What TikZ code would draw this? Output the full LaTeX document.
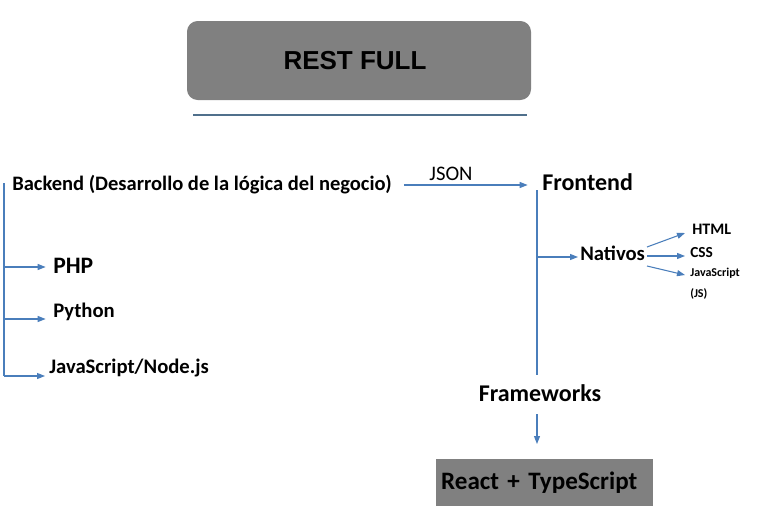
\documentclass[tikz,border=0pt]{standalone}
\usepackage{fontspec}
\setmainfont{Carlito}
\newfontfamily\ari{Liberation Sans}
\usetikzlibrary{arrows.meta}
\definecolor{boxgray}{RGB}{128,128,128}
\definecolor{arrblue}{RGB}{74,126,187}
\definecolor{slate}{RGB}{80,112,140}
\tikzset{
  arr/.style={draw=arrblue, line width=0.8pt, -{Triangle[length=6pt,width=4.5pt]}},
  plain/.style={draw=arrblue, line width=0.8pt},
  lbl/.style={anchor=west, inner sep=0pt, font=\bfseries},
}
\begin{document}
\begin{tikzpicture}[x=0.75pt,y=-0.75pt]
\useasboundingbox (0,0) rectangle (759,525);
% title
\node[fill=boxgray, rounded corners=8pt, minimum width=258pt, minimum height=59.25pt, inner sep=0pt] (rest) at (359,60.5) {};
\node[inner sep=0pt, font=\ari\bfseries\fontsize{19.5}{22}\selectfont] (restlbl) at (355,61) {REST FULL};
\coordinate (tl) at (193,115);
\coordinate (tr) at (527,115);
\draw[slate, line width=0.8pt] (tl) -- (tr);
% backend
\node[lbl, font=\bfseries\fontsize{15.4}{18}\selectfont] (backend) at (12,185) {Backend (Desarrollo de la lógica del negocio)};
\coordinate (btop) at (4,183);
\coordinate (b1) at (4,267);
\coordinate (b2) at (4,319);
\coordinate (b3) at (4,376);
\draw[plain] (btop) -- (b3);
\node[lbl, font=\bfseries\fontsize{17.7}{20}\selectfont] (php) at (53,266) {PHP};
\node[lbl, font=\bfseries\fontsize{15.5}{18}\selectfont] (python) at (53,312) {Python};
\node[lbl, font=\bfseries\fontsize{15.5}{18}\selectfont] (nodejs) at (49,368) {JavaScript/Node.js};
\draw[arr, shorten >=5.5pt] (b1) -- (b1 -| php.west);
\draw[arr, shorten >=5.5pt] (b2) -- (b2 -| python.west);
\draw[arr, shorten >=3pt] (b3) -- (b3 -| nodejs.west);
% json
\coordinate (ftop) at (537,185);
\node[lbl, font=\bfseries\fontsize{18}{21}\selectfont] (frontend) at (542,182) {Frontend};
\draw[arr, shorten <=9pt, shorten >=7pt] (backend.east |- ftop) -- (ftop);
\node[inner sep=0pt, font=\fontsize{15.5}{18}\selectfont] (json) at (451,174) {JSON};
\coordinate (fbot) at (537,375);
\draw[plain] ([yshift=-3.75pt]ftop) -- (fbot);
\coordinate (f1) at (537,257);
\node[lbl, font=\bfseries\fontsize{15.5}{18}\selectfont] (nativos) at (580,253) {Nativos};
\draw[arr, shorten >=1.5pt] (f1) -- (f1 -| nativos.west);
\node[lbl, font=\bfseries\fontsize{12}{14}\selectfont] (html) at (692,229) {HTML};
\node[lbl, font=\bfseries\fontsize{11.5}{13}\selectfont] (css) at (690,253) {CSS};
\node[lbl, font=\bfseries\fontsize{9}{15.5}\selectfont, align=left] (js) at (690,284) {JavaScript\\(JS)};
\coordinate (n1) at (647,247);
\coordinate (h1) at (685,233);
\coordinate (n2) at (647,256);
\coordinate (c1) at (685,256);
\coordinate (n3) at (647,266);
\coordinate (j1) at (685,275);
\draw[arr] (n1) -- (h1);
\draw[arr] (n2) -- (c1);
\draw[arr] (n3) -- (j1);
% frameworks
\node[inner sep=0pt, font=\bfseries\fontsize{18}{21}\selectfont] (fw) at (540,393) {Frameworks};
\node[fill=boxgray, minimum width=162.75pt, minimum height=35.25pt, inner xsep=3.75pt, text width=155pt, align=left, font=\bfseries\fontsize{18.8}{22}\selectfont] (react) at (544.5,482.5) {React + TypeScript};
\coordinate (fa) at (537,414);
\coordinate (fb) at (537,444);
\draw[arr] (fa) -- (fb);
\end{tikzpicture}
\end{document}
